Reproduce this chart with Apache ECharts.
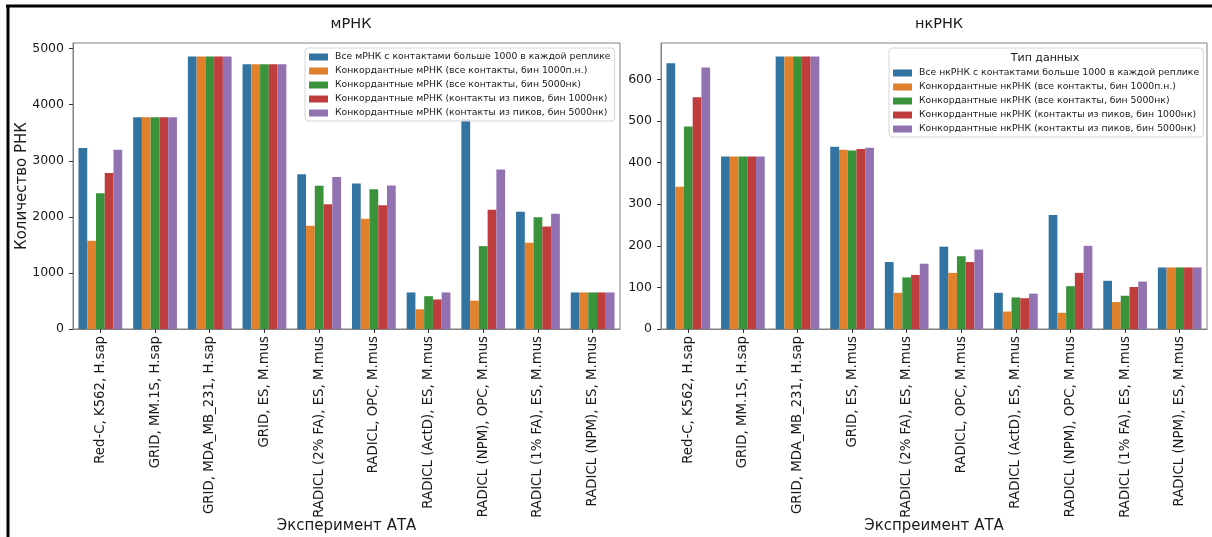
<!DOCTYPE html>
<html>
<head>
<meta charset="utf-8">
<script src="https://cdn.jsdelivr.net/npm/echarts@6/dist/echarts.min.js"></script>
<style>
html, body { margin: 0; padding: 0; background: #fff; }
#chart { width: 1212px; height: 537px; }
</style>
</head>
<body>
<div id="chart"></div>
<script>
// Experiments (x categories, shared by both panels)
const experiments = [
  'Red-C, K562, H.sap',
  'GRID, MM.1S, H.sap',
  'GRID, MDA_MB_231, H.sap',
  'GRID, ES, M.mus',
  'RADICL (2% FA), ES, M.mus',
  'RADICL, OPC, M.mus',
  'RADICL (ActD), ES, M.mus',
  'RADICL (NPM), OPC, M.mus',
  'RADICL (1% FA), ES, M.mus',
  'RADICL (NPM), ES, M.mus'
];

// mRNA panel
const mrnaNames = [
  'Все мРНК с контактами больше 1000 в каждой реплике',
  'Конкордантные мРНК (все контакты, бин 1000п.н.)',
  'Конкордантные мРНК (все контакты, бин 5000нк)',
  'Конкордантные мРНК (контакты из пиков, бин 1000нк)',
  'Конкордантные мРНК (контакты из пиков, бин 5000нк)'
];
const mrnaAll      = [3226, 3774, 4857, 4719, 2760, 2595, 652, 3740, 2090, 652];
const mrnaAllBin1k = [1572, 3774, 4857, 4719, 1839, 1965, 352, 506, 1540, 652];
const mrnaAllBin5k = [2420, 3774, 4857, 4719, 2556, 2494, 585, 1478, 1992, 652];
const mrnaPkBin1k  = [2780, 3774, 4857, 4719, 2226, 2208, 527, 2128, 1826, 652];
const mrnaPkBin5k  = [3196, 3774, 4857, 4719, 2712, 2560, 652, 2845, 2057, 652];
const mrnaTicks    = [0, 1000, 2000, 3000, 4000, 5000];

// ncRNA panel
const ncrnaNames = [
  'Все нкРНК с контактами больше 1000 в каждой реплике',
  'Конкордантные нкРНК (все контакты, бин 1000п.н.)',
  'Конкордантные нкРНК (все контакты, бин 5000нк)',
  'Конкордантные нкРНК (контакты из пиков, бин 1000нк)',
  'Конкордантные нкРНК (контакты из пиков, бин 5000нк)'
];
const ncrnaAll      = [639, 415, 655, 438, 161, 198, 87, 274, 116, 148];
const ncrnaAllBin1k = [342, 415, 655, 431, 87, 135, 42, 39, 65, 148];
const ncrnaAllBin5k = [487, 415, 655, 429, 124, 175, 76, 103, 80, 148];
const ncrnaPkBin1k  = [557, 415, 655, 433, 130, 161, 74, 135, 101, 148];
const ncrnaPkBin5k  = [629, 415, 655, 436, 157, 191, 85, 200, 114, 148];
const ncrnaTicks    = [0, 100, 200, 300, 400, 500, 600];

const palette = ['#3274a1', '#e1812c', '#3a923a', '#c03d3e', '#9372b2'];
const FONT = 'DejaVu Sans';
const AXIS_GRAY = '#808080';
const TEXT = '#1a1a1a';

const mrnaValues = [mrnaAll, mrnaAllBin1k, mrnaAllBin5k, mrnaPkBin1k, mrnaPkBin5k];
const ncrnaValues = [ncrnaAll, ncrnaAllBin1k, ncrnaAllBin5k, ncrnaPkBin1k, ncrnaPkBin5k];

// y range leaves 5% headroom over the tallest bar
const maxOf = arrs => Math.max(...arrs.map(a => Math.max(...a)));
const mrnaMax = maxOf(mrnaValues) * 1.05;
const ncrnaMax = maxOf(ncrnaValues) * 1.05;

function xAxisFor(gridIndex, title) {
  return {
    type: 'category',
    gridIndex,
    data: experiments,
    name: title,
    nameLocation: 'middle',
    nameGap: 190,
    nameMoveOverlap: false,
    nameTextStyle: { fontFamily: FONT, fontSize: 15, color: TEXT },
    axisLine: { show: true, lineStyle: { color: AXIS_GRAY, width: 1 } },
    axisTick: { show: true, alignWithLabel: true, length: 4, lineStyle: { color: '#333' } },
    axisLabel: { rotate: 90, interval: 0, margin: 7, fontFamily: FONT, fontSize: 13.3, color: TEXT },
    splitLine: { show: false }
  };
}

function yAxisFor(gridIndex, max, ticks, title) {
  return {
    type: 'value',
    gridIndex,
    min: 0,
    max,
    name: title || '',
    nameLocation: 'middle',
    nameGap: 43,
    nameMoveOverlap: false,
    nameTextStyle: { fontFamily: FONT, fontSize: 15, color: TEXT },
    axisLine: { show: true, lineStyle: { color: AXIS_GRAY, width: 1 } },
    axisTick: { show: true, length: 4, customValues: ticks, lineStyle: { color: '#333' } },
    axisLabel: {
      customValues: ticks, margin: 9, fontFamily: FONT, fontSize: 12.5, color: TEXT,
      formatter: v => String(v)
    },
    splitLine: { show: false }
  };
}

function barSeries(names, values, axisIndex) {
  return names.map((name, i) => ({
    type: 'bar',
    name,
    xAxisIndex: axisIndex,
    yAxisIndex: axisIndex,
    data: values[i],
    barGap: '0%',
    barCategoryGap: '20%',
    itemStyle: { color: palette[i] },
    emphasis: { disabled: true }
  }));
}

function legendFor(names, left, top, padding) {
  return {
    data: names,
    orient: 'vertical',
    left,
    top,
    padding,
    itemGap: 2,
    itemWidth: 19,
    itemHeight: 7,
    icon: 'rect',
    selectedMode: false,
    backgroundColor: 'rgba(255,255,255,0.8)',
    borderColor: '#d6d6d6',
    borderWidth: 1,
    borderRadius: 3,
    textStyle: { fontFamily: FONT, fontSize: 9.3, lineHeight: 12, color: TEXT, padding: [0, 0, 0, 2] }
  };
}

const gridBase = {
  top: 43, height: 286, show: true, borderColor: AXIS_GRAY, borderWidth: 1,
  backgroundColor: 'transparent', outerBoundsMode: 'none', containLabel: false
};

const chart = echarts.init(document.getElementById('chart'), null, { renderer: 'canvas' });

chart.setOption({
  animation: false,
  backgroundColor: '#fff',
  title: [
    { text: 'мРНК', left: 346, top: 12, textAlign: 'center',
      textStyle: { fontFamily: FONT, fontSize: 14.5, fontWeight: 'normal', color: TEXT } },
    { text: 'нкРНК', left: 934, top: 12, textAlign: 'center',
      textStyle: { fontFamily: FONT, fontSize: 14.5, fontWeight: 'normal', color: TEXT } },
    { text: 'Тип данных', left: 1045, top: 53, textAlign: 'center', padding: 0,
      textStyle: { fontFamily: FONT, fontSize: 11, fontWeight: 'normal', color: TEXT } }
  ],
  grid: [
    Object.assign({ left: 73, width: 547 }, gridBase),
    Object.assign({ left: 661, width: 546 }, gridBase)
  ],
  xAxis: [
    xAxisFor(0, 'Эксперимент АТА'),
    xAxisFor(1, 'Экспреимент АТА')
  ],
  yAxis: [
    yAxisFor(0, mrnaMax, mrnaTicks, 'Количество РНК'),
    yAxisFor(1, ncrnaMax, ncrnaTicks)
  ],
  legend: [
    legendFor(mrnaNames, 305, 48, [3, 4, 2, 4]),
    legendFor(ncrnaNames, 889, 48, [19, 4, 2, 4])
  ],
  series: [
    ...barSeries(mrnaNames, mrnaValues, 0),
    ...barSeries(ncrnaNames, ncrnaValues, 1)
  ],
  graphic: [
    { type: 'line', shape: { x1: 6, y1: 6, x2: 1212, y2: 6 }, style: { stroke: '#000', lineWidth: 3 }, z: 100 },
    { type: 'line', shape: { x1: 8, y1: 5, x2: 8, y2: 537 }, style: { stroke: '#000', lineWidth: 3 }, z: 100 }
  ]
});
</script>
</body>
</html>
